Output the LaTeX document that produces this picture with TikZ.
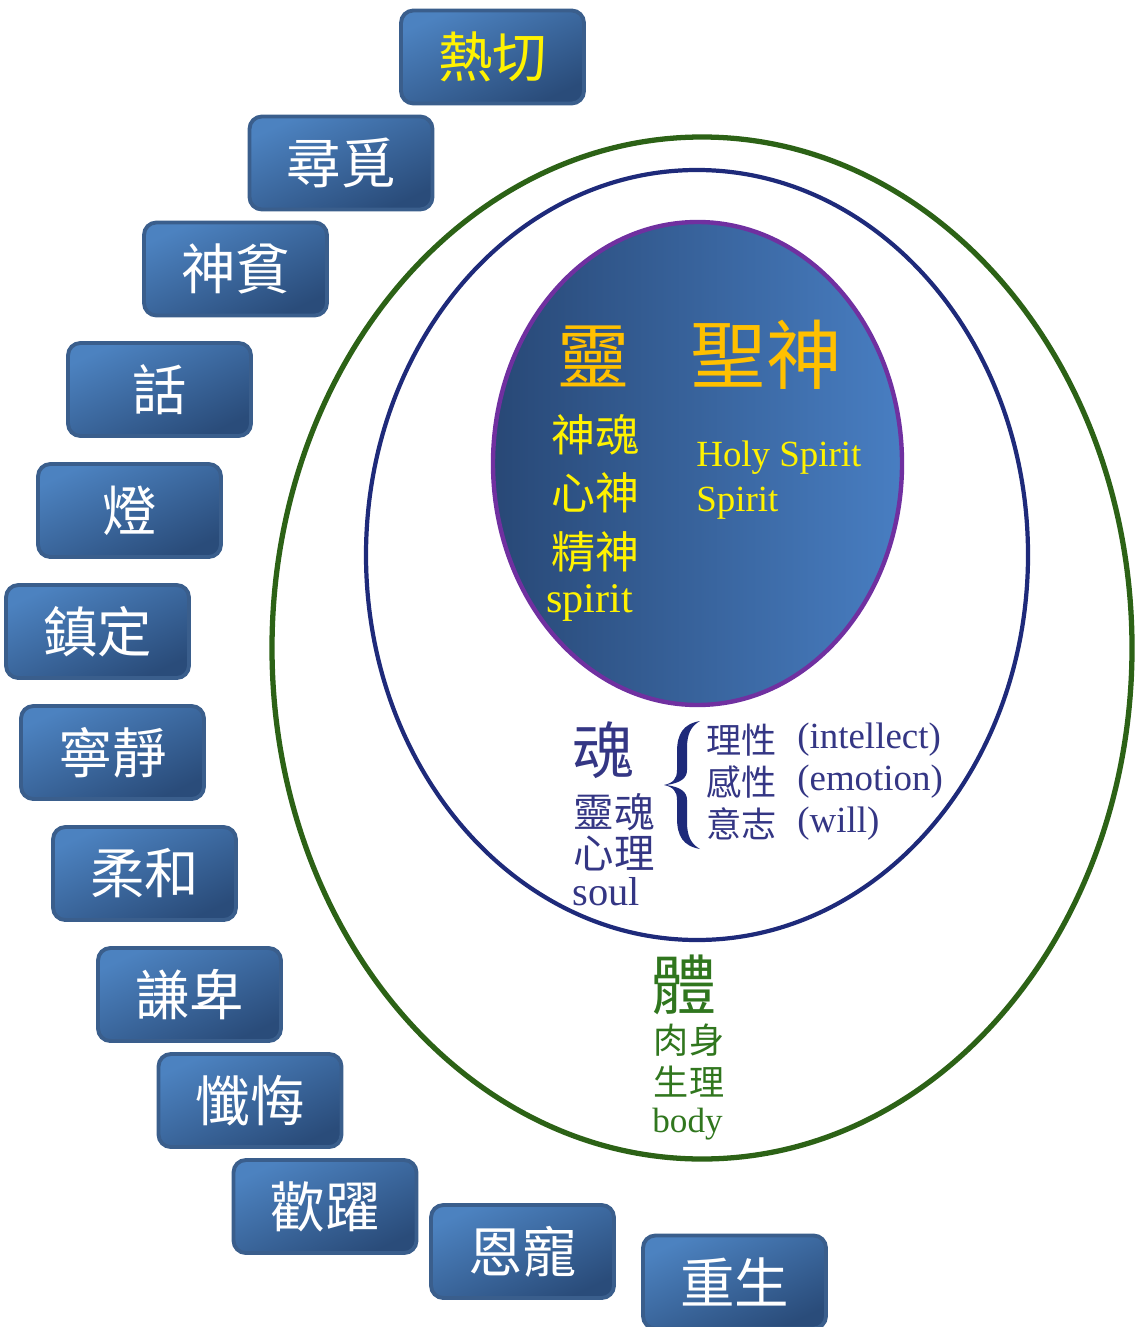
\documentclass[tikz,border=0pt]{standalone}
\usepackage{fontspec}
\setmainfont{Liberation Serif}
\newfontfamily\cjk{Noto Sans CJK TC}
\definecolor{boxtop}{RGB}{76,130,192}
\definecolor{boxbot}{RGB}{42,76,122}
\definecolor{boxedge}{RGB}{58,94,140}
\definecolor{spiritleft}{RGB}{40,72,118}
\definecolor{spiritright}{RGB}{72,126,194}
\definecolor{spiritedge}{RGB}{112,48,160}
\definecolor{soulline}{RGB}{30,42,122}
\definecolor{bodyline}{RGB}{44,98,22}
\definecolor{soultext}{RGB}{52,54,132}
\definecolor{bodytext}{RGB}{48,118,30}
\definecolor{gold}{RGB}{255,192,0}
\tikzset{
  virtue/.style={draw=boxedge, line width=2.2pt, rounded corners=7pt,
    minimum width=3.66cm, minimum height=1.86cm, inner sep=0pt,
    top color=boxtop, bottom color=boxbot, shading angle=25,
    text=white, font=\cjk\fontsize{31}{33}\selectfont},
  spirittext/.style={text=yellow, inner sep=0pt},
  soultext/.style={text=soultext, inner sep=0pt},
  bodytext/.style={text=bodytext, inner sep=0pt}
}
\begin{document}
\begin{tikzpicture}[x=0.02cm, y=-0.02cm]
    \useasboundingbox (0,0) rectangle (1134,1327);
    % body, soul, spirit
    \draw [bodyline, line width=3pt] (702,648) ellipse [x radius=430, y radius=511];
    \draw [soulline, line width=2.4pt] (697,555) ellipse [x radius=331, y radius=385];
    \draw [spiritedge, line width=2.5pt, left color=spiritleft, right color=spiritright] (697.5,463.5) ellipse [x radius=204.5, y radius=241.5];
    % spirit
    \node [text=gold, inner sep=0pt, font=\cjk\fontsize{41}{43}\selectfont] (ling) at (594,356) {靈};
    \node [text=gold, inner sep=0pt, font=\cjk\fontsize{43}{45}\selectfont] (holy) at (766,355) {聖神};
    \node [spirittext, font=\cjk\fontsize{25}{27}\selectfont] (shenhun) at (595,435) {神魂};
    \node [spirittext, font=\cjk\fontsize{25}{27}\selectfont] (xinshen) at (595,493) {心神};
    \node [spirittext, font=\cjk\fontsize{25}{27}\selectfont] (jingshen) at (595,552) {精神};
    \node [spirittext, anchor=west, font=\fontsize{24}{26}\selectfont] (spirit) at (546,603) {spirit};
    \node [spirittext, anchor=west, font=\fontsize{21}{23}\selectfont] (hs) at (696,458) {Holy Spirit};
    \node [spirittext, anchor=west, font=\fontsize{21}{23}\selectfont] (sp) at (696,503) {Spirit};
    % soul
    \node [soultext, font=\cjk\fontsize{35}{37}\selectfont] (hun) at (603,750) {魂};
    \node [soultext, font=\cjk\fontsize{23}{25}\selectfont] (linghun) at (614,812) {靈魂};
    \node [soultext, font=\cjk\fontsize{23}{25}\selectfont] (xinli) at (614,853) {心理};
    \node [soultext, anchor=west, font=\fontsize{23}{25}\selectfont] (soul) at (572,892) {soul};
    % brace
    \fill [soulline] (700,721) .. controls (683,724) and (677,734) .. (677,752) -- (677,770)
        .. controls (677,779) and (673,783) .. (664,785) .. controls (673,787) and (677,791) .. (677,800)
        -- (677,818) .. controls (677,836) and (683,846) .. (700,849)
        .. controls (691,844) and (687,836) .. (687,822) -- (687,800)
        .. controls (687,792) and (681,787) .. (666,785) .. controls (681,783) and (687,778) .. (687,770)
        -- (687,748) .. controls (687,734) and (691,726) .. (700,721) -- cycle;
    \node [soultext, anchor=west, font=\cjk\fontsize{20}{22}\selectfont] (lixing) at (706,740) {理性};
    \node [soultext, anchor=west, font=\cjk\fontsize{20}{22}\selectfont] (ganxing) at (706,782) {感性};
    \node [soultext, anchor=west, font=\cjk\fontsize{20}{22}\selectfont] (yizhi) at (706,824) {意志};
    \node [soultext, anchor=west, font=\fontsize{21}{23}\selectfont] (intellect) at (797,740) {(intellect)};
    \node [soultext, anchor=west, font=\fontsize{21}{23}\selectfont] (emotion) at (797,782) {(emotion)};
    \node [soultext, anchor=west, font=\fontsize{21}{23}\selectfont] (will) at (797,824) {(will)};
    % body
    \node [bodytext, font=\cjk\fontsize{37}{39}\selectfont] (ti) at (684,985) {體};
    \node [bodytext, font=\cjk\fontsize{20}{22}\selectfont] (roushen) at (689,1040) {肉身};
    \node [bodytext, font=\cjk\fontsize{20}{22}\selectfont] (shengli) at (689,1082) {生理};
    \node [bodytext, anchor=west, font=\fontsize{20}{22}\selectfont] (body) at (652,1124) {body};
    % the steps
    \node [virtue, text=yellow] (zeal) at (492.5,57) {熱切};
    \node [virtue] (seek) at (341,163) {尋覓};
    \node [virtue] (poor) at (235.5,269) {神貧};
    \node [virtue] (word) at (159.5,389.5) {話};
    \node [virtue] (lamp) at (129.5,510.5) {燈};
    \node [virtue] (steady) at (97.5,631.5) {鎮定};
    \node [virtue] (quiet) at (112.5,752.5) {寧靜};
    \node [virtue] (gentle) at (144.5,873.5) {柔和};
    \node [virtue] (humble) at (189.5,994.5) {謙卑};
    \node [virtue] (repent) at (250,1100.5) {懺悔};
    \node [virtue] (joy) at (325,1206.5) {歡躍};
    \node [virtue] (grace) at (522.5,1251.5) {恩寵};
    \node [virtue] (reborn) at (734.5,1282) {重生};
\end{tikzpicture}
\end{document}
